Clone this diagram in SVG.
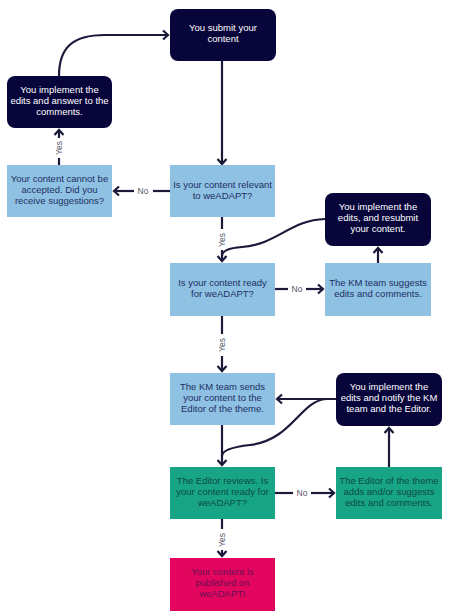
<svg xmlns="http://www.w3.org/2000/svg" width="450" height="613" viewBox="0 0 450 613">
<defs>
<marker id="ah" markerUnits="userSpaceOnUse" markerWidth="12" markerHeight="12" refX="8" refY="6" orient="auto">
<path d="M3,1.5 L8,6 L3,10.5" fill="none" stroke="#1b1a3a" stroke-width="2.2" stroke-linejoin="miter"/>
</marker>
<style>
.c{fill:none;stroke:#1b1a3a;stroke-width:2.2}
.dark{fill:#07053a}
.blue{fill:#8fc1e3}
.teal{fill:#17a585}
.pink{fill:#e2065f}
text{font-family:"Liberation Sans",Arial,sans-serif;font-size:9.5px;text-anchor:middle}
.tw{fill:#ffffff}
.tb{fill:#1d2f63}
.tt{fill:#0d4a49}
.tp{fill:#6a1050}
.lbl{fill:#55566a;font-size:8.5px}
</style>
</defs>
<rect width="450" height="613" fill="#ffffff"/>
<g id="connectors">
<line class="c" x1="222" y1="61" x2="222" y2="164" marker-end="url(#ah)"/>
<line class="c" x1="170" y1="191" x2="153" y2="191"/>
<line class="c" x1="134" y1="191" x2="114" y2="191" marker-end="url(#ah)"/>
<text class="lbl" x="143" y="194">No</text>
<line class="c" x1="59" y1="165" x2="59" y2="158"/>
<line class="c" x1="59" y1="138" x2="59" y2="130" marker-end="url(#ah)"/>
<text class="lbl" transform="translate(62,148) rotate(-90)">Yes</text>
<path class="c" d="M59,76 C59,48 72,35 105,35 L168,35" marker-end="url(#ah)"/>
<line class="c" x1="222" y1="217" x2="222" y2="229"/>
<line class="c" x1="222" y1="250" x2="222" y2="261" marker-end="url(#ah)"/>
<text class="lbl" transform="translate(225,240) rotate(-90)">Yes</text>
<path class="c" d="M325,219 C290,220 278,244 242,247 C228,248 222,251 222,256"/>
<line class="c" x1="275" y1="289" x2="288" y2="289"/>
<line class="c" x1="306" y1="289" x2="323" y2="289" marker-end="url(#ah)"/>
<text class="lbl" x="297" y="292">No</text>
<line class="c" x1="378" y1="263" x2="378" y2="248" marker-end="url(#ah)"/>
<line class="c" x1="222" y1="316" x2="222" y2="334"/>
<line class="c" x1="222" y1="356" x2="222" y2="371" marker-end="url(#ah)"/>
<text class="lbl" transform="translate(225,345) rotate(-90)">Yes</text>
<line class="c" x1="336" y1="399" x2="277" y2="399" marker-end="url(#ah)"/>
<path class="c" d="M326,399 C300,401 292,440 250,445 C231,447 222,451 222,456"/>
<line class="c" x1="222" y1="425" x2="222" y2="465" marker-end="url(#ah)"/>
<line class="c" x1="275" y1="493" x2="293" y2="493"/>
<line class="c" x1="311" y1="493" x2="334" y2="493" marker-end="url(#ah)"/>
<text class="lbl" x="302" y="496">No</text>
<line class="c" x1="389" y1="467" x2="389" y2="428" marker-end="url(#ah)"/>
<line class="c" x1="222" y1="519" x2="222" y2="529"/>
<line class="c" x1="222" y1="550" x2="222" y2="556" marker-end="url(#ah)"/>
<text class="lbl" transform="translate(225,540) rotate(-90)">Yes</text>
</g>
<g id="n-submit">
<rect class="dark" x="170" y="9" width="106" height="52" rx="8"/>
<text class="tw" x="223" y="31">You submit your</text>
<text class="tw" x="223" y="42">content</text>
</g>
<g id="n-implement1">
<rect class="dark" x="7" y="76" width="105" height="52" rx="8"/>
<text class="tw" x="59.5" y="93">You implement the</text>
<text class="tw" x="59.5" y="104">edits and answer to the</text>
<text class="tw" x="59.5" y="115">comments.</text>
</g>
<g id="n-rejected">
<rect class="blue" x="7" y="165" width="105" height="52"/>
<text class="tb" x="59.5" y="182">Your content cannot be</text>
<text class="tb" x="59.5" y="193">accepted. Did you</text>
<text class="tb" x="59.5" y="204">receive suggestions?</text>
</g>
<g id="n-relevant">
<rect class="blue" x="170" y="165" width="105" height="52"/>
<text class="tb" x="222.5" y="188">Is your content relevant</text>
<text class="tb" x="222.5" y="199">to weADAPT?</text>
</g>
<g id="n-resubmit">
<rect class="dark" x="325" y="193" width="106" height="53" rx="8"/>
<text class="tw" x="378" y="210">You implement the</text>
<text class="tw" x="378" y="221">edits, and resubmit</text>
<text class="tw" x="378" y="232">your content.</text>
</g>
<g id="n-ready">
<rect class="blue" x="170" y="263" width="105" height="53"/>
<text class="tb" x="222.5" y="286">Is your content ready</text>
<text class="tb" x="222.5" y="297">for weADAPT?</text>
</g>
<g id="n-km-suggests">
<rect class="blue" x="325" y="263" width="106" height="53"/>
<text class="tb" x="378" y="286">The KM team suggests</text>
<text class="tb" x="378" y="297">edits and comments.</text>
</g>
<g id="n-km-sends">
<rect class="blue" x="170" y="373" width="105" height="52"/>
<text class="tb" x="222.5" y="390">The KM team sends</text>
<text class="tb" x="222.5" y="401">your content to the</text>
<text class="tb" x="222.5" y="412">Editor of the theme.</text>
</g>
<g id="n-notify">
<rect class="dark" x="336" y="373" width="106" height="53" rx="8"/>
<text class="tw" x="389" y="390">You implement the</text>
<text class="tw" x="389" y="401">edits and notify the KM</text>
<text class="tw" x="389" y="412">team and the Editor.</text>
</g>
<g id="n-editor-reviews">
<rect class="teal" x="170" y="467" width="105" height="52"/>
<text class="tt" x="222.5" y="484">The Editor reviews. Is</text>
<text class="tt" x="222.5" y="495">your content ready for</text>
<text class="tt" x="222.5" y="506">weADAPT?</text>
</g>
<g id="n-editor-adds">
<rect class="teal" x="336" y="467" width="106" height="52"/>
<text class="tt" x="389" y="484">The Editor of the theme</text>
<text class="tt" x="389" y="495">adds and/or suggests</text>
<text class="tt" x="389" y="506">edits and comments.</text>
</g>
<g id="n-published">
<rect class="pink" x="170" y="558" width="105" height="53"/>
<text class="tp" x="222.5" y="575">Your content is</text>
<text class="tp" x="222.5" y="586">published on</text>
<text class="tp" x="222.5" y="597">weADAPT!</text>
</g>
</svg>
